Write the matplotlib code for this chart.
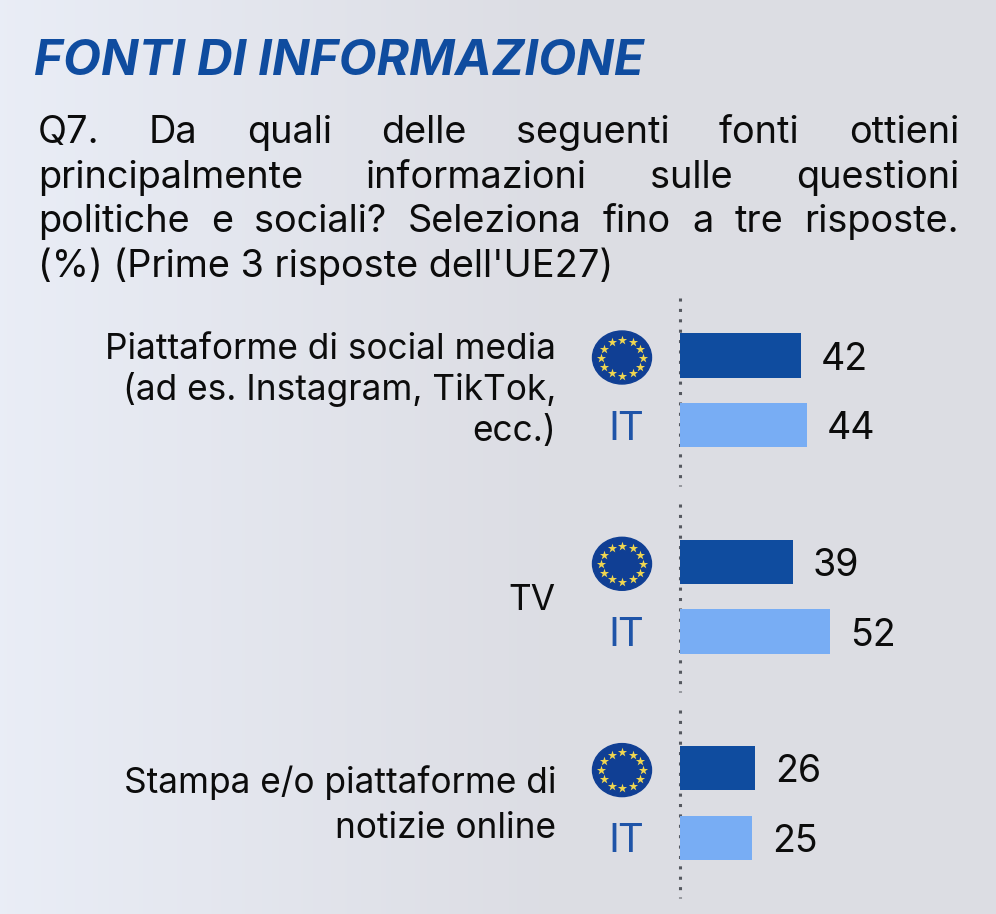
import numpy as np
import matplotlib
matplotlib.use("Agg")
import matplotlib.pyplot as plt
from matplotlib.patches import Ellipse

W, H = 996, 914

title = "FONTI DI INFORMAZIONE"
question = ["Q7. Da quali delle seguenti fonti ottieni",
            "principalmente informazioni sulle questioni",
            "politiche e sociali? Seleziona fino a tre risposte.",
            "(%) (Prime 3 risposte dell'UE27)"]
categories = [["Piattaforme di social media", "(ad es. Instagram, TikTok,", "ecc.)"],
              ["TV"],
              ["Stampa e/o piattaforme di", "notizie online"]]
eu_values = [42, 39, 26]
it_values = [44, 52, 25]

DARK = "#0f4c9f"
LIGHT = "#78adf4"
TEXT = "#0c0c0c"
FONT = "Inter"


def px(x, y):
    """ Pixel position (from top left) to figure fraction """
    return x / W, 1 - y / H


def put(fig, x, y, s, **kw):
    return fig.text(*px(x, y), s, family=FONT, va="baseline", **kw)


def justify(fig, line, x0, x1, y, size):
    """ Draw one line word by word so that it fills x0..x1 """
    words = line.split(" ")
    r = fig.canvas.get_renderer()
    texts = [put(fig, x0, y, w, fontsize=size, color=TEXT) for w in words]
    widths = [t.get_window_extent(r).width for t in texts]
    gap = (x1 - x0 - sum(widths)) / (len(words) - 1)
    x = x0
    for t, w in zip(texts, widths):
        t.set_position(px(x, y))
        x += w + gap


def eu_flag(bg, cx, cy):
    bg.add_patch(Ellipse((cx, cy), 59, 53, color="#103f94", zorder=3))
    ang = np.deg2rad(np.arange(0, 360, 30))
    bg.scatter(cx + 21 * np.cos(ang), cy + 18 * np.sin(ang), marker="*", s=48,
               color="#f0d650", linewidths=0, zorder=4)


fig = plt.figure(figsize=(W / 100, H / 100), dpi=100)

# background gradient + pixel-space layer for decoration
bg = fig.add_axes([0, 0, 1, 1])
bg.set_xlim(0, W)
bg.set_ylim(H, 0)
bg.axis("off")
gx = np.linspace(0, 1, 256)[:, None]
mix = np.clip(gx / 0.55, 0, 1)
grad = np.array([[0.915, 0.93, 0.965]]) * (1 - mix) + np.array([[0.863, 0.867, 0.893]]) * mix
bg.imshow(grad[None, :, :], extent=[0, W, H, 0], aspect="auto", zorder=0, interpolation="bilinear")

# bars: x axis in percent, y axis in groups
ax = fig.add_axes([0, 0, 1, 1])
ax.patch.set_alpha(0)
ax.axis("off")
scale = 2.89
ax.set_xlim(-680 / scale, (W - 680) / scale)
group_step = 206.3
ax.set_ylim((H - 355.5) / group_step, -355.5 / group_step)
pos = np.arange(len(categories))
off = 69.7 / group_step
bar_h = 44.5 / group_step
ax.barh(pos, eu_values, height=bar_h, color=DARK, zorder=3)
ax.barh(pos + off, it_values, height=bar_h, color=LIGHT, zorder=3)
for i in pos:
    ax.plot([0, 0], [i - 58 / group_step, i + 130 / group_step], color="#55585f", lw=2.2,
            ls=(0, (1, 2.4)), zorder=2)
    ax.text(eu_values[i] + 6.8, i + 14 / group_step, str(eu_values[i]), fontsize=27,
            family=FONT, color=TEXT, va="baseline", ha="left")
    ax.text(it_values[i] + 6.8, i + off + 14 / group_step, str(it_values[i]), fontsize=27,
            family=FONT, color=TEXT, va="baseline", ha="left")
    cy = 355.5 + i * group_step
    eu_flag(bg, 622, cy + 2)
    fig.text(*px(626, cy + 84), "IT", fontsize=29, color="#1f54a8", family="Roboto",
             ha="center", va="baseline")

# category labels
label_y = [[359, 400, 441], [610], [793, 838]]
for lines, ys in zip(categories, label_y):
    for line, y in zip(lines, ys):
        put(fig, 556, y, line, fontsize=25.4, color=TEXT, ha="right")

# title and question
put(fig, 34, 75, title, fontsize=35.5, fontweight="bold", fontstyle="italic", color=DARK)
fig.canvas.draw()
qy = [143, 188, 232]
for line, y in zip(question[:3], qy):
    justify(fig, line, 38, 959, y, 27.3)
put(fig, 38, 277, question[3], fontsize=27.3, color=TEXT)

fig.savefig("out.png", dpi=100)
